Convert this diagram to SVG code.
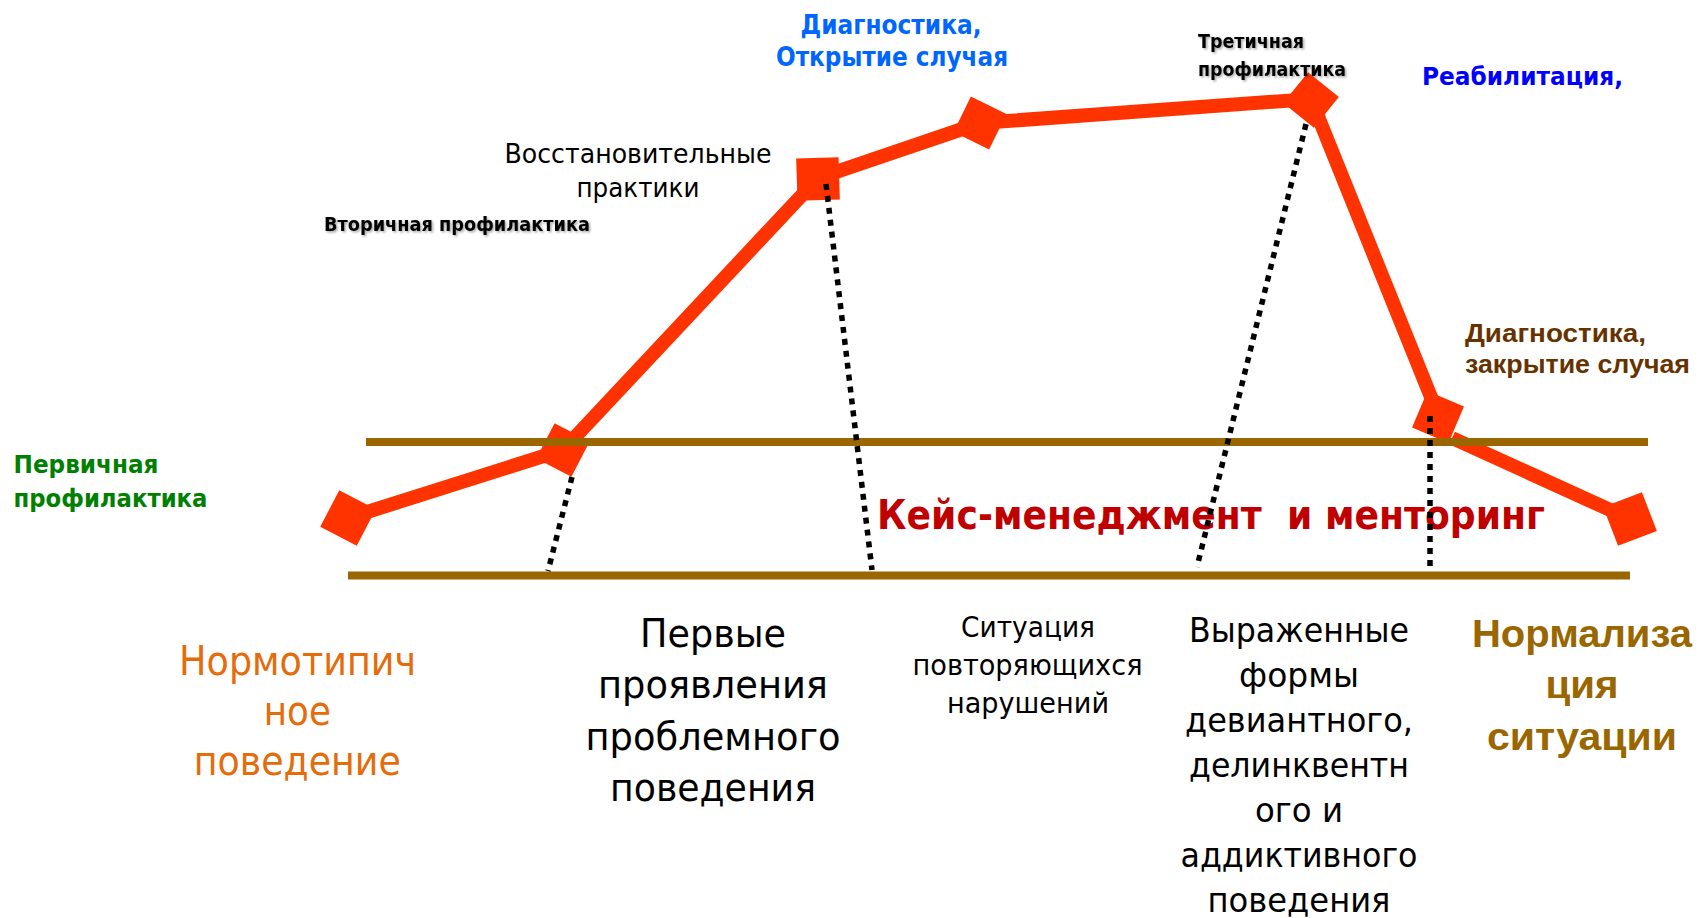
<svg xmlns="http://www.w3.org/2000/svg" xmlns:xlink="http://www.w3.org/1999/xlink" width="1701" height="918" viewBox="0 0 1701 918">
<style>
text{font-family:"DejaVu Sans","Noto Sans",sans-serif;}
.b{font-weight:bold;}
.m{text-anchor:middle;}
.nar text{font-family:"Liberation Sans","DejaVu Sans",sans-serif;}
.red{stroke:#FF3300;stroke-width:14;fill:none;stroke-linejoin:miter;}
.dot{stroke:#000;stroke-width:5.5;stroke-dasharray:6 6;fill:none;}
.band{stroke:#996600;stroke-width:8;}
.mk{fill:#FF3300;}
</style>
<defs>
<polygon id="dia" points="28,0 0,28 -28,0 0,-28"/>
<filter id="sh" x="-10%" y="-30%" width="120%" height="160%">
<feDropShadow dx="1.5" dy="1.5" stdDeviation="1" flood-color="#000" flood-opacity="0.35"/>
</filter>
</defs>
<rect width="1701" height="918" fill="#fff"/>
<g id="connectors">
<polyline class="red" points="348,518 563,450 818,178 980,123 1311,99 1439,417"/>
<line class="red" x1="1452" y1="438" x2="1630" y2="519"/>
</g>
<g id="node-p0" class="mk"><use xlink:href="#dia" transform="translate(348,518) rotate(-17.5) scale(1.04)"/></g>
<g id="node-p1" class="mk"><use xlink:href="#dia" transform="translate(563,450) rotate(-17.5)"/></g>
<g id="node-p2" class="mk"><use xlink:href="#dia" transform="translate(818,179) rotate(-46.8) scale(1.07)"/></g>
<g id="node-p3" class="mk"><use xlink:href="#dia" transform="translate(980,123) rotate(-19)"/></g>
<g id="node-p4" class="mk"><use xlink:href="#dia" transform="translate(1311,100) rotate(-6)"/></g>
<g id="node-p5" class="mk"><use xlink:href="#dia" transform="translate(1438,417) rotate(68)"/></g>
<g id="node-p6" class="mk"><use xlink:href="#dia" transform="translate(1630,519) rotate(24) scale(1.05)"/></g>
<g id="bands">
<line class="band" x1="366" y1="442" x2="1648" y2="442"/>
<line class="band" x1="348" y1="575.5" x2="1630" y2="575.5"/>
</g>
<g id="label-diag-open" class="b m" fill="#0066FF" font-size="26">
<text x="891" y="34" textLength="181" lengthAdjust="spacingAndGlyphs">Диагностика,</text>
<text x="892" y="66" textLength="232" lengthAdjust="spacingAndGlyphs">Открытие случая</text>
</g>
<g id="label-tertiary" class="b" fill="#000" font-size="20" filter="url(#sh)">
<text x="1198" y="48" textLength="106" lengthAdjust="spacingAndGlyphs">Третичная</text>
<text x="1198" y="76" textLength="148" lengthAdjust="spacingAndGlyphs">профилактика</text>
</g>
<g id="label-rehab" class="b" fill="#0000FF" font-size="25">
<text x="1422" y="85" textLength="201" lengthAdjust="spacingAndGlyphs">Реабилитация,</text>
</g>
<g id="label-restorative" class="m" fill="#000" font-size="27">
<text x="638" y="163" textLength="267" lengthAdjust="spacingAndGlyphs">Восстановительные</text>
<text x="638" y="197" textLength="123" lengthAdjust="spacingAndGlyphs">практики</text>
</g>
<g id="label-secondary" class="b" fill="#000" font-size="19" filter="url(#sh)">
<text x="324" y="231" textLength="266" lengthAdjust="spacingAndGlyphs">Вторичная профилактика</text>
</g>
<g id="label-diag-close" class="b nar" fill="#663300" font-size="26">
<text x="1465" y="342" textLength="181" lengthAdjust="spacingAndGlyphs">Диагностика,</text>
<text x="1465" y="373" textLength="225" lengthAdjust="spacingAndGlyphs">закрытие случая</text>
</g>
<g id="label-primary" class="b" fill="#008000" font-size="25">
<text x="13.5" y="473" textLength="145" lengthAdjust="spacingAndGlyphs">Первичная</text>
<text x="13.5" y="507" textLength="194" lengthAdjust="spacingAndGlyphs">профилактика</text>
</g>
<g id="label-case" class="b" fill="#C00000" font-size="41">
<text x="877" y="529" textLength="668" lengthAdjust="spacingAndGlyphs" xml:space="preserve">Кейс-менеджмент  и менторинг</text>
</g>
<g id="label-normotypic" class="m" fill="#E46C0A" font-size="41">
<text x="297.6" y="675" textLength="237" lengthAdjust="spacingAndGlyphs">Нормотипич</text>
<text x="297.3" y="725" textLength="67" lengthAdjust="spacingAndGlyphs">ное</text>
<text x="297.3" y="775" textLength="207" lengthAdjust="spacingAndGlyphs">поведение</text>
</g>
<g id="label-first" class="m" fill="#000" font-size="39">
<text x="713" y="647" textLength="146" lengthAdjust="spacingAndGlyphs">Первые</text>
<text x="713" y="698" textLength="230" lengthAdjust="spacingAndGlyphs">проявления</text>
<text x="713" y="750" textLength="255" lengthAdjust="spacingAndGlyphs">проблемного</text>
<text x="713" y="801" textLength="206" lengthAdjust="spacingAndGlyphs">поведения</text>
</g>
<g id="label-repeated" class="m" fill="#000" font-size="29">
<text x="1028" y="637" textLength="134" lengthAdjust="spacingAndGlyphs">Ситуация</text>
<text x="1027.5" y="675" textLength="230" lengthAdjust="spacingAndGlyphs">повторяющихся</text>
<text x="1028" y="713" textLength="162" lengthAdjust="spacingAndGlyphs">нарушений</text>
</g>
<g id="label-deviant" class="m" fill="#000" font-size="33">
<text x="1299" y="642" textLength="220" lengthAdjust="spacingAndGlyphs">Выраженные</text>
<text x="1299" y="687" textLength="120" lengthAdjust="spacingAndGlyphs">формы</text>
<text x="1299" y="732" textLength="228" lengthAdjust="spacingAndGlyphs">девиантного,</text>
<text x="1299" y="777" textLength="220" lengthAdjust="spacingAndGlyphs">делинквентн</text>
<text x="1299" y="822" textLength="88" lengthAdjust="spacingAndGlyphs">ого и</text>
<text x="1299" y="867" textLength="237" lengthAdjust="spacingAndGlyphs">аддиктивного</text>
<text x="1299" y="912" textLength="183" lengthAdjust="spacingAndGlyphs">поведения</text>
</g>
<g id="label-normalization" class="b m nar" fill="#996600" font-size="39">
<text x="1582" y="647" textLength="220" lengthAdjust="spacingAndGlyphs">Нормализа</text>
<text x="1582" y="698" textLength="73" lengthAdjust="spacingAndGlyphs">ция</text>
<text x="1582" y="750" textLength="190" lengthAdjust="spacingAndGlyphs">ситуации</text>
</g>
<g id="connectors-dotted">
<line class="dot" x1="572" y1="477" x2="548" y2="571"/>
<line class="dot" x1="826" y1="184" x2="872" y2="570"/>
<line class="dot" x1="1306" y1="124" x2="1197" y2="567"/>
<line class="dot" x1="1430" y1="416" x2="1430" y2="568"/>
</g>
</svg>
